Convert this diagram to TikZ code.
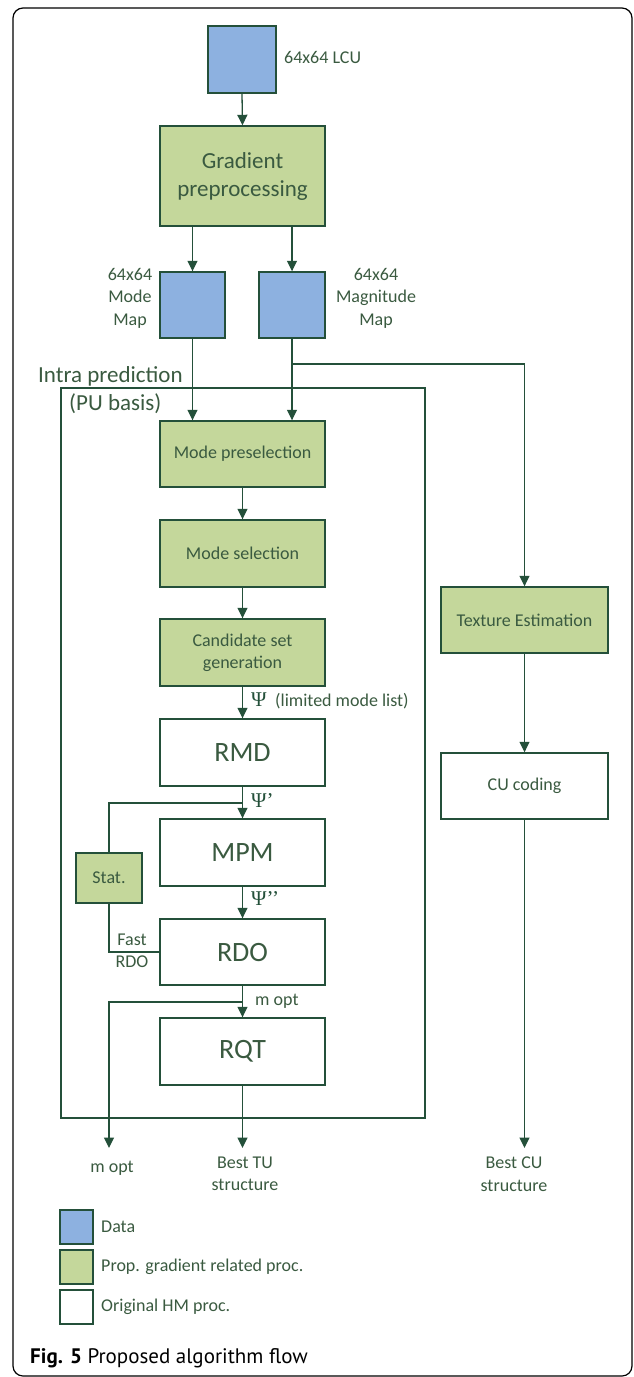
\documentclass[tikz,border=0pt]{standalone}
\usepackage{fontspec}
\setmainfont{Carlito}
\newfontfamily\capfont{PT Sans}
\newfontfamily\psifont{Liberation Serif}
\usetikzlibrary{arrows.meta}
\definecolor{dblue}{HTML}{8DB1E0}
\definecolor{dgreen}{HTML}{C4D79B}
\definecolor{lnc}{HTML}{24503A}
\definecolor{txc}{HTML}{3A5A40}
\tikzset{
  base/.style={draw=lnc, line width=1.4pt, text=txc, align=center, inner sep=0pt},
  databox/.style={base, fill=dblue},
  procbox/.style={base, fill=dgreen, minimum width=165pt, minimum height=66pt, font=\fontsize{18}{22}\selectfont},
  hmbox/.style={base, fill=white, minimum width=165pt, minimum height=66pt, font=\fontsize{28}{32}\selectfont},
  lbl/.style={text=txc, align=center, inner sep=0pt, font=\fontsize{18}{22.5}\selectfont},
  psil/.style={text=lnc, inner sep=0pt, font=\psifont\fontsize{21}{24}\selectfont},
  conn/.style={draw=lnc, line width=1.3pt},
  arr/.style={conn, -{Triangle[length=10.5pt,width=10pt]}},
}
\begin{document}
\begin{tikzpicture}[x=1pt,y=-1pt]
\useasboundingbox (0,0) rectangle (634,1377);
\draw[black, line width=1.2pt, rounded corners=10pt] (13,8) rectangle (632,1376);

% top part
\node[databox, minimum width=68pt, minimum height=67pt] (lcu) at (242,59.5) {};
\node[lbl, anchor=west] (lcul) at (284,57) {64x64 LCU};
\node[procbox, minimum height=100pt, font=\fontsize{23}{28}\selectfont] (grad) at (242.5,176) {Gradient\\preprocessing};
\node[databox, minimum width=65pt, minimum height=66pt] (mm) at (192.5,305) {};
\node[databox, minimum width=66pt, minimum height=66pt] (mag) at (292,305) {};
\node[lbl] (mml) at (130,298) {64x64\\Mode\\Map};
\node[lbl] (magl) at (376,298) {64x64\\Magnitude\\Map};

% intra prediction frame
\node[lbl, anchor=west, font=\fontsize{23}{28}\selectfont] (intral) at (38,376) {Intra prediction};
\node[draw=lnc, line width=1.3pt, minimum width=364pt, minimum height=730pt, inner sep=0pt] (intra) at (243,753) {};
\node[lbl, anchor=west, font=\fontsize{23}{28}\selectfont] (pul) at (69,404) {(PU basis)};

\node[procbox] (pre) at (242.5,454) {Mode preselection};
\node[procbox, minimum height=67pt] (sel) at (242.5,553.5) {Mode selection};
\node[procbox, minimum height=67pt] (cand) at (242.5,652.5) {Candidate set\\generation};
\node[hmbox, minimum height=67pt] (rmd) at (242.5,752.5) {RMD};
\node[hmbox, minimum height=67pt] (mpm) at (242.5,852.5) {MPM};
\node[hmbox] (rdo) at (242.5,952) {RDO};
\node[hmbox, minimum height=67pt] (rqt) at (242.5,1051.5) {RQT};
\node[procbox, minimum width=66pt, minimum height=50pt] (stat) at (109,878) {Stat.};

\node[procbox, minimum width=167pt] (te) at (524.5,620) {Texture Estimation};
\node[procbox, fill=white, minimum width=167pt] (cu) at (524.5,786) {CU coding};

% coordinates
\coordinate (b1) at (292,364);
\coordinate (p1) at (242.5,803);
\coordinate (p2) at (242.5,1002);
\coordinate (moptend) at (109,1148);
\coordinate (tuend) at (242.5,1148);
\coordinate (cuend) at (524.5,1148);

% connectors
\draw[arr] (lcu.south) -- (grad.north);
\draw[arr] (mm.north |- grad.south) -- (mm.north);
\draw[arr] (mag.north |- grad.south) -- (mag.north);
\draw[arr] (mm.south) -- (mm.south |- pre.north);
\draw[arr] (mag.south) -- (mag.south |- pre.north);
\draw[arr] (b1) -| (te.north);
\draw[arr] (pre) -- (sel);
\draw[arr] (sel) -- (cand);
\draw[arr] (cand) -- (rmd);
\draw[arr] (rmd) -- (mpm);
\draw[arr] (mpm) -- (rdo);
\draw[arr] (rdo) -- (rqt);
\draw[arr] (rqt.south) -- (tuend);
\draw[conn] (p1) -| (stat.north);
\draw[conn] (stat.south) |- (rdo.west);
\draw[arr] (p2) -| (moptend);
\draw[arr] (te) -- (cu);
\draw[arr] (cu.south) -- (cuend);

% connector labels
\node[psil, anchor=west] (psiA) at (251,700) {Ψ};
\node[lbl, anchor=west] (psiAl) at (275,701) {(limited mode list)};
\node[psil, anchor=west] (psi1) at (251,801) {Ψ’};
\node[psil, anchor=west] (psi2) at (251,899) {Ψ’’};
\node[lbl, anchor=west] (moptl) at (255,1001) {m opt};
\node[lbl] (fastl) at (132,951) {Fast\\RDO};

% outputs
\node[lbl] (mopt) at (112,1168) {m opt};
\node[lbl] (tu) at (245,1174) {Best TU\\structure};
\node[lbl] (cul) at (514,1174) {Best CU\\structure};

% legend
\node[databox, line width=1.2pt, minimum width=33pt, minimum height=34pt] (lg1) at (76.5,1227) {};
\node[procbox, line width=1.2pt, minimum width=33pt, minimum height=34pt] (lg2) at (76.5,1267) {};
\node[procbox, fill=white, line width=1.2pt, minimum width=33pt, minimum height=34pt] (lg3) at (76.5,1307) {};
\node[lbl, anchor=west] (lg1l) at (101,1227) {Data};
\node[lbl, anchor=west] (lg2l) at (101,1267) {Prop. gradient related proc.};
\node[lbl, anchor=west] (lg3l) at (101,1307) {Original HM proc.};

% caption
\node[anchor=west, inner sep=0pt, font=\capfont\fontsize{21}{24}\selectfont] (cap) at (30,1358) {\textbf{Fig. 5} Proposed algorithm flow};
\end{tikzpicture}
\end{document}
